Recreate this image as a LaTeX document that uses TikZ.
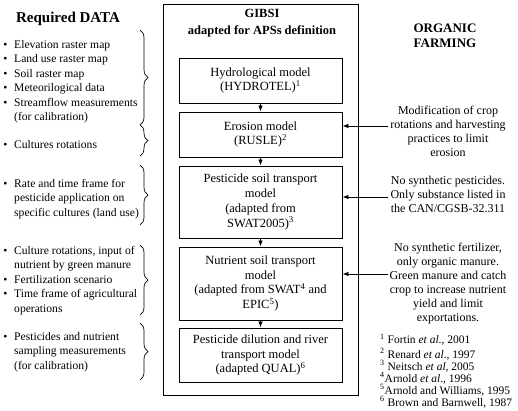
\documentclass[tikz,border=0pt]{standalone}
\usepackage{fontspec}
\setmainfont{Liberation Serif}
\usetikzlibrary{decorations.pathreplacing,arrows.meta}
\begin{document}
\begin{tikzpicture}[x=1pt,y=-1pt,
  every node/.style={inner sep=0pt},
  item/.style={font=\fontsize{11.6}{14.5}\selectfont, anchor=north west, align=left},
  bul/.style={font=\fontsize{11.6}{14.5}\selectfont, anchor=north},
  model/.style={draw, line width=0.9pt, minimum width=163pt, align=center, font=\fontsize{12.5}{14.8}\selectfont},
  note/.style={font=\fontsize{12}{14}\selectfont, anchor=north, align=center},
  refs/.style={font=\fontsize{11.5}{12}\selectfont, anchor=north west, align=left},
  flow/.style={-{Latex[length=6pt,width=4.5pt]}, line width=0.8pt},
  brc/.style={decorate, decoration={brace, amplitude=8pt}, line width=0.7pt},
  head/.style={font=\bfseries\fontsize{12.5}{17}\selectfont, align=center}
]
\useasboundingbox (0,0) rectangle (518,410);

% left column
\node[font=\bfseries\fontsize{15}{18}\selectfont] (req) at (68,19) {Required DATA};
\node[bul] (u1) at (5.5,38) {\strut\textbullet};
\node[item] (i1) at (14,38) {\strut Elevation raster map};
\node[bul] (u2) at (5.5,52.5) {\strut\textbullet};
\node[item] (i2) at (14,52.5) {\strut Land use raster map};
\node[bul] (u3) at (5.5,67) {\strut\textbullet};
\node[item] (i3) at (14,67) {\strut Soil raster map};
\node[bul] (u4) at (5.5,81.5) {\strut\textbullet};
\node[item] (i4) at (14,81.5) {\strut Meteorilogical data};
\node[bul] (u5) at (5.5,96) {\strut\textbullet};
\node[item] (i5) at (14,96) {\strut Streamflow measurements\\(for calibration)};
\node[bul] (u6) at (5.5,138) {\strut\textbullet};
\node[item] (i6) at (14,138) {\strut Cultures rotations};
\node[bul] (u7) at (5.5,177) {\strut\textbullet};
\node[item] (i7) at (14,177) {\strut Rate and time frame for\\pesticide application on\\specific cultures (land use)};
\node[bul] (u8) at (5.5,244) {\strut\textbullet};
\node[item] (i8) at (14,244) {\strut Culture rotations, input of\\nutrient by green manure};
\node[bul] (u9) at (5.5,273) {\strut\textbullet};
\node[item] (i9) at (14,273) {\strut Fertilization scenario};
\node[bul] (u10) at (5.5,287.5) {\strut\textbullet};
\node[item] (i10) at (14,287.5) {\strut Time frame of agricultural\\operations};
\node[bul] (u11) at (5.5,330) {\strut\textbullet};
\node[item] (i11) at (14,330) {\strut Pesticides and nutrient\\sampling measurements\\(for calibration)};

\draw[brc] (140,30) -- (140,125);
\draw[brc] (140,125) -- (140,156);
\draw[brc] (140,165) -- (140,225);
\draw[brc] (140,245) -- (140,315);
\draw[brc] (140,323) -- (140,380);

% GIBSI frame
\node[draw, line width=0.9pt, minimum width=195pt, minimum height=391pt] (gibsi) at (260.5,199.5) {};
\node[head] (title) at (262,23.5) {GIBSI\\adapted for APSs definition};

\node[model, minimum height=45pt] (b1) at (260.5,80.5) {Hydrological model\\(HYDROTEL)\textsuperscript{1}};
\node[model, minimum height=45pt] (b2) at (260.5,134.5) {Erosion model\\(RUSLE)\textsuperscript{2}};
\node[model, minimum height=72pt] (b3) at (260.5,202) {Pesticide soil transport\\model\\(adapted from\\SWAT2005)\textsuperscript{3}};
\node[model, minimum height=73pt] (b4) at (260.5,283.5) {Nutrient soil transport\\model\\(adapted from SWAT\textsuperscript{4} and\\EPIC\textsuperscript{5})};
\node[model, minimum height=54pt] (b5) at (260.5,355) {Pesticide dilution and river\\transport model\\(adapted QUAL)\textsuperscript{6}};

\draw[flow] (b1.south) -- (b2.north);
\draw[flow] (b2.south) -- (b3.north);
\draw[flow] (b3.south) -- (b4.north);
\draw[flow] (b4.south) -- (b5.north);

% right column
\node[head, font=\bfseries\fontsize{13}{15}\selectfont] (org) at (445,35.5) {ORGANIC\\FARMING};
\node[note] (n1) at (448,104.2) {\strut Modification of crop\\rotations and harvesting\\practices to limit\\erosion};
\node[note] (n2) at (448,174.2) {\strut No synthetic pesticides.\\Only substance listed in\\the CAN/CGSB-32.311};
\node[note] (n3) at (448,241.2) {\strut No synthetic fertilizer,\\only organic manure.\\Green manure and catch\\crop to increase nutrient\\yield and limit\\exportations.};

\coordinate (a1) at (388,126);
\coordinate (a2) at (388,197);
\coordinate (a3) at (388,274);
\draw[flow] (a1) -- (a1 -| b2.east);
\draw[flow] (a2) -- (a2 -| b3.east);
\draw[flow] (a3) -- (a3 -| b4.east);

\node[refs] (fn) at (380,334) {\strut\textsuperscript{1} Fortin \textit{et al}., 2001\\
\textsuperscript{2} Renard \textit{et al}., 1997\\
\textsuperscript{3} Neitsch \textit{et al}, 2005\\
\textsuperscript{4}Arnold \textit{et al}., 1996\\
\textsuperscript{5}Arnold and Williams, 1995\\
\textsuperscript{6} Brown and Barnwell, 1987};
\end{tikzpicture}
\end{document}
